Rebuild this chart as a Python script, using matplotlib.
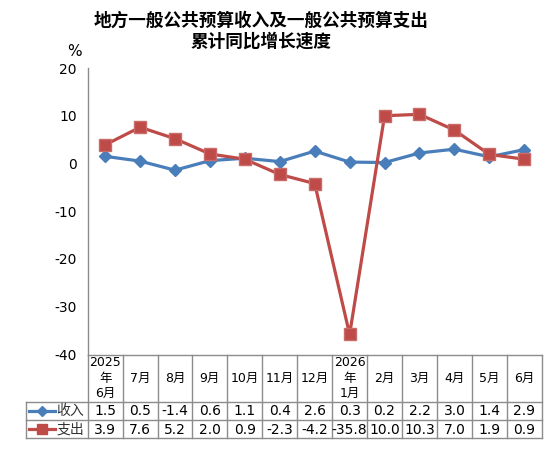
import matplotlib
matplotlib.use("Agg")
import matplotlib.pyplot as plt
from matplotlib.transforms import blended_transform_factory

plt.rcParams['font.family'] = ['DejaVu Sans', 'Noto Sans CJK SC']

categories = ["2025\n年\n6月", "7月", "8月", "9月", "10月", "11月", "12月",
              "2026\n年\n1月", "2月", "3月", "4月", "5月", "6月"]
revenue = [1.5, 0.5, -1.4, 0.6, 1.1, 0.4, 2.6, 0.3, 0.2, 2.2, 3.0, 1.4, 2.9]
expenditure = [3.9, 7.6, 5.2, 2.0, 0.9, -2.3, -4.2, -35.8, 10.0, 10.3, 7.0, 1.9, 0.9]
series_names = ["收入", "支出"]
yticks = [-40, -30, -20, -10, 0, 10, 20]
title = "地方一般公共预算收入及一般公共预算支出\n累计同比增长速度"

BLUE = "#4A7EBB"
RED = "#BE4B48"
GRID = "#8C8C8C"

W, H = 554, 453
fig = plt.figure(figsize=(W / 100, H / 100), dpi=100)

def fx(px):
    return px / W

def fy(py):
    return 1 - py / H

ax_l, ax_r, ax_t, ax_b = 87.7, 541.7, 68, 354.5
ax = fig.add_axes([fx(ax_l), fy(ax_b), fx(ax_r) - fx(ax_l), fy(ax_t) - fy(ax_b)])
x = list(range(len(categories)))
ax.plot(x, revenue, color=BLUE, lw=2.3, marker="D", ms=6.5, mec=BLUE, mfc=BLUE, zorder=3)
ax.plot(x, expenditure, color=RED, lw=2.3, marker="s", ms=8, mec="#C96B68", mfc=RED, mew=1, zorder=3)
ax.set_xlim(-0.5, len(categories) - 0.5)
ax.set_ylim(-40, 20)
ax.set_yticks(yticks)
ax.set_yticklabels([str(v) for v in yticks], fontsize=10)
ax.tick_params(axis='y', length=0, pad=8)
ax.set_xticks([])
for s in ["top", "right", "bottom"]:
    ax.spines[s].set_visible(False)
ax.spines["left"].set_color(GRID)
ax.spines["left"].set_linewidth(1)
ax.patch.set_alpha(0)

fig.text(fx(74), fy(52), "%", fontsize=11, ha="center", va="center")
fig.text(fx(261), fy(31), title, fontsize=12.7, fontweight="bold", ha="center",
         va="center", family=["Noto Sans CJK SC"], linespacing=1.25)

# data table
tr = blended_transform_factory(ax.transData, fig.transFigure)
n = len(categories)
y_head_top, y_head_bot, y_mid, y_bot = 354.5, 401.7, 420, 438.3
tab_left = 25.7
lkw = dict(color=GRID, lw=1, transform=fig.transFigure, clip_on=False)
# horizontal lines
fig.add_artist(plt.Line2D([fx(ax_l), fx(ax_r)], [fy(y_head_top)] * 2, **lkw))
for yy in (y_head_bot, y_mid, y_bot):
    fig.add_artist(plt.Line2D([fx(tab_left), fx(ax_r)], [fy(yy)] * 2, **lkw))
# vertical lines
fig.add_artist(plt.Line2D([fx(tab_left)] * 2, [fy(y_head_bot), fy(y_bot)], **lkw))
for i in range(n + 1):
    xb = i - 0.5
    fig.add_artist(plt.Line2D([xb, xb], [fy(y_head_top), fy(y_bot)], color=GRID, lw=1,
                              transform=tr, clip_on=False))
# header labels
for i, c in enumerate(categories):
    fig.text(i, fy((y_head_top + y_head_bot) / 2), c, transform=tr, ha="center",
             va="center", fontsize=9, linespacing=1.25)
# values
for row, (vals, yy) in enumerate(((revenue, (y_head_bot + y_mid) / 2),
                                   (expenditure, (y_mid + y_bot) / 2))):
    for i, v in enumerate(vals):
        fig.text(i, fy(yy) - 0.001, f"{v:.1f}", transform=tr, ha="center", va="center",
                 fontsize=10)
# legend keys
for name, col, mk, ms, yy in ((series_names[0], BLUE, "D", 5, (y_head_bot + y_mid) / 2),
                              (series_names[1], RED, "s", 6.5, (y_mid + y_bot) / 2)):
    fig.add_artist(plt.Line2D([fx(28.5), fx(55)], [fy(yy)] * 2, color=col, lw=2.3,
                              transform=fig.transFigure))
    fig.add_artist(plt.Line2D([fx(41.7)], [fy(yy)], color=col, marker=mk, ms=ms,
                              transform=fig.transFigure))
    fig.text(fx(70.5), fy(yy) - 0.001, name, ha="center", va="center", fontsize=10,
             color="#333333")

fig.savefig("out.png", dpi=100)
